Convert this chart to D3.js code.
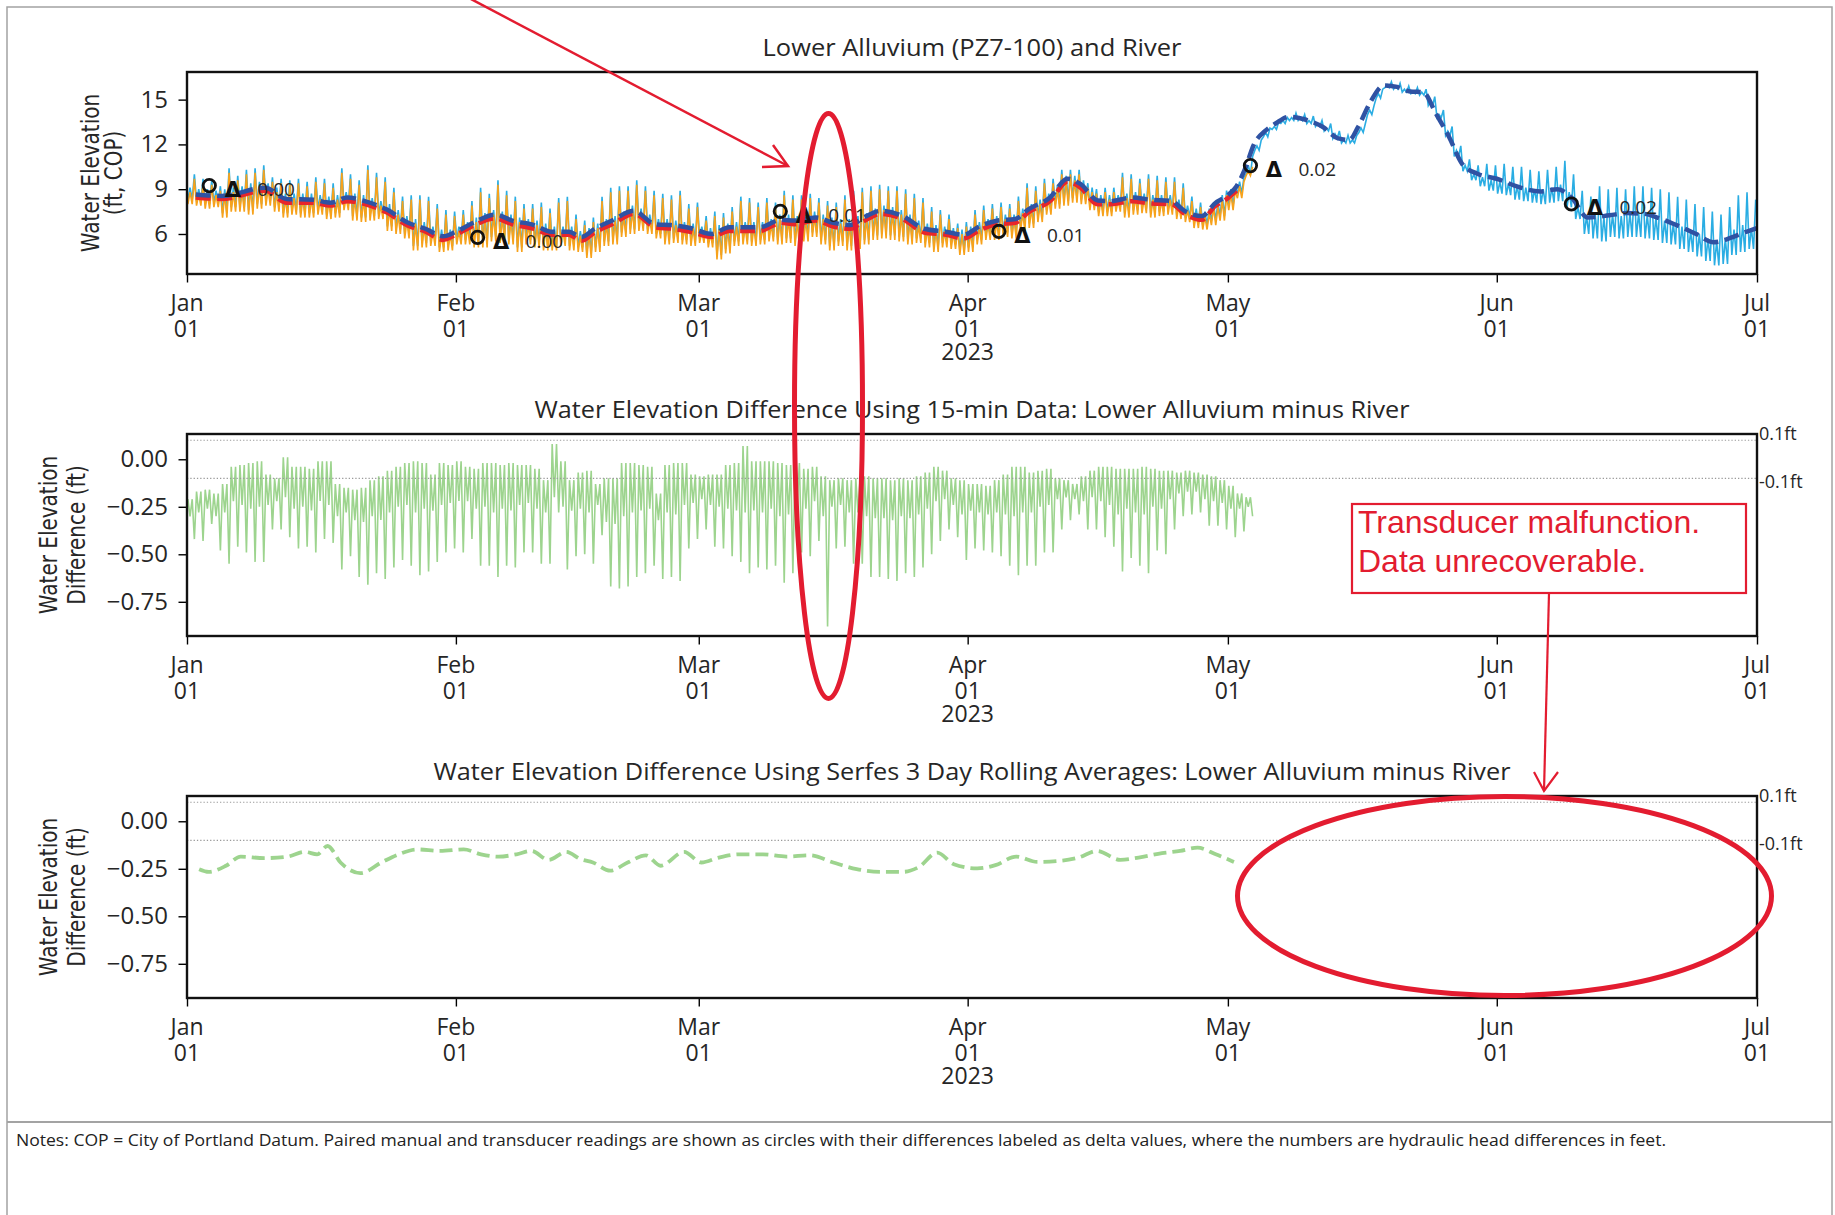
<!DOCTYPE html>
<html><head><meta charset="utf-8">
<script src="https://cdn.jsdelivr.net/npm/d3@7"></script>
<style>body{margin:0;background:#fff}svg{display:block}</style>
</head><body>
<svg id="c" width="1835" height="1215"></svg>
<script>
// ---------------- DATA ----------------
const startDate = "2023-01-01", endDate = "2023-07-01";
const monthLabels = ["Jan","Feb","Mar","Apr","May","Jun","Jul"];
const dayLabel = "01";
const yearLabel = "2023";
const titles = [
  "Lower Alluvium (PZ7-100) and River",
  "Water Elevation Difference Using 15-min Data: Lower Alluvium minus River",
  "Water Elevation Difference Using Serfes 3 Day Rolling Averages: Lower Alluvium minus River"
];
const yLabels1 = ["Water Elevation", "(ft, COP)"];
const yLabels2 = ["Water Elevation", "Difference (ft)"];
const yTicks1 = [6, 9, 12, 15];
const yTicks2 = [-0.75, -0.5, -0.25, 0];
const refLines = [0.1, -0.1];
const refLabels = ["0.1ft", "-0.1ft"];

// River 15-min: daily higher-high, secondary high, low (day 0 = Jan 1)
const riverHigh = [
10.0,9.7,9.6,9.2,10.4,9.9,10.3,10.4,10.6,9.8,
9.7,9.6,9.7,9.5,9.8,9.7,9.4,10.4,10.0,9.6,
10.6,10.1,9.8,9.1,8.5,8.6,8.6,8.5,8.0,7.6,
7.5,7.6,8.2,9.1,8.7,9.6,8.9,8.5,8.0,8.0,
8.1,7.7,8.4,8.5,7.3,6.9,7.1,8.5,9.1,9.2,
9.2,9.6,9.2,8.9,8.7,8.6,8.9,8.0,8.1,7.2,
7.5,7.4,7.8,8.5,8.4,8.1,8.4,8.1,8.9,8.6,
8.6,8.7,8.4,8.2,8.1,8.6,8.9,9.1,9.2,9.3,
9.2,9.2,9.0,8.7,8.4,7.8,7.6,7.3,6.7,6.8,
7.6,7.9,8.0,8.1,8.0,8.5,9.4,9.2,9.7,9.7,
10.3,10.3,10.3,9.4,9.0,9.1,9.1,10.1,10.0,9.7,
10.0,9.9,9.8,9.8,9.4,8.5,8.1,7.7,8.1,8.9,
9.2,9.8,11.2,12.3,13.1,13.5,13.8,14.1,14.0,13.9,
13.6,13.4,12.9,12.6,12.6,13.4,14.6,15.7,16.2,16.1,
15.9,15.8,15.7,15.2,14.3,13.2,11.9,11.0,10.6,10.7,
10.6,10.7,10.5,10.5,10.3,10.2,10.3,10.5,10.9,10.0,
8.9,8.5,9.2,9.0,9.1,9.0,9.2,9.2,9.1,9.0,
8.8,8.5,8.3,8.0,7.8,7.5,7.3,7.8,8.6,8.8,8.3];
const riverMid = [
9.1,9.0,9.0,8.9,9.0,9.1,9.2,9.4,9.5,9.4,
9.1,8.7,8.7,8.7,8.7,8.6,8.5,8.6,8.8,8.7,
8.6,8.4,8.2,8.0,7.6,7.2,7.0,6.8,6.5,6.3,
6.3,6.5,6.8,7.1,7.4,7.6,7.5,7.3,7.1,7.0,
6.9,6.7,6.5,6.5,6.5,6.2,6.4,6.7,7.0,7.2,
7.5,7.9,7.7,7.3,7.0,7.0,6.9,6.8,6.7,6.5,
6.4,6.6,6.7,6.8,6.8,6.8,6.8,7.0,7.3,7.3,
7.2,7.3,7.5,7.3,7.1,7.0,7.0,7.2,7.4,7.7,
7.9,7.8,7.6,7.3,6.9,6.7,6.6,6.5,6.4,6.3,
6.5,6.8,7.0,7.2,7.3,7.3,7.7,8.0,8.3,8.7,
9.3,9.9,9.9,9.6,9.1,8.6,8.6,8.6,8.7,8.8,
8.7,8.6,8.6,8.6,8.3,7.9,7.7,7.5,8.1,8.6,
9.0,9.5,10.6,11.9,12.8,13.2,13.6,13.8,13.8,13.6,
13.4,13.1,12.7,12.3,12.3,13.1,14.3,15.4,16.0,15.9,
15.7,15.5,15.5,14.9,14.0,12.9,11.6,10.6,10.0,9.8,
9.6,9.5,9.4,9.2,9.1,9.0,9.0,9.1,9.3,8.8,
7.8,7.2,7.3,7.1,7.3,7.2,7.4,7.4,7.3,7.1,
6.9,6.7,6.5,6.2,6.0,5.7,5.5,5.7,6.3,6.6,6.4];
const riverLow = [
8.3,8.2,8.0,8.1,7.4,7.8,7.8,7.6,8.0,8.2,
7.8,7.4,7.6,7.4,7.4,7.6,7.3,7.4,7.9,7.2,
7.1,7.2,7.3,6.5,6.3,6.0,5.2,5.4,5.5,5.1,
5.2,5.6,5.6,5.4,5.4,5.8,5.7,5.6,5.1,5.6,
5.4,5.2,5.2,5.5,5.2,5.1,4.7,5.1,5.5,5.6,
6.1,6.3,6.5,6.3,6.0,5.6,5.7,5.6,5.5,5.7,
5.4,4.6,5.0,5.5,5.6,5.5,5.6,5.8,5.6,5.7,
5.5,5.8,6.1,5.6,5.2,5.5,5.2,5.3,5.6,5.9,
6.0,5.9,5.8,5.6,5.7,5.4,5.1,5.4,5.3,4.9,
5.1,5.6,5.9,5.9,6.1,6.0,6.5,6.7,7.1,7.6,
8.0,8.2,8.4,8.3,7.9,7.5,7.5,7.8,7.4,7.6,
7.7,7.4,7.5,7.6,7.3,7.1,6.7,6.6,6.9,7.2,
7.9,8.7,10.0,11.6,12.5,13.0,13.4,13.6,13.6,13.4,
13.2,12.9,12.4,12.1,12.1,12.8,14.0,15.1,15.8,15.7,
15.5,15.4,15.3,14.6,13.8,12.6,11.2,10.2,9.6,9.2,
8.9,8.7,8.6,8.3,8.2,8.1,8.0,8.1,8.2,7.8,
7.0,6.0,5.7,5.5,5.8,5.7,5.8,5.8,5.7,5.6,
5.4,5.3,5.0,4.8,4.5,4.2,3.9,4.0,4.6,4.8,5.0];
// Lower Alluvium 15-min: daily higher-high, secondary high, low (ends early May)
const alluvHigh = [
9.7,9.4,9.3,8.9,10.1,9.6,10.0,10.1,10.3,9.5,
9.4,9.3,9.4,9.2,9.5,9.4,9.1,10.1,9.7,9.3,
10.3,9.8,9.5,8.8,8.2,8.3,8.3,8.2,7.7,7.3,
7.2,7.3,7.9,8.8,8.4,9.3,8.6,8.2,7.7,7.7,
7.8,7.4,8.1,8.2,7.0,6.6,6.8,8.2,8.8,8.9,
8.9,9.3,8.9,8.6,8.4,8.3,8.6,7.7,7.8,6.9,
7.2,7.1,7.5,8.2,8.1,7.8,8.1,7.8,8.6,8.3,
8.3,8.4,8.1,7.9,7.8,8.3,8.6,8.8,8.9,9.0,
8.9,8.9,8.7,8.4,8.1,7.5,7.3,7.0,6.4,6.5,
7.3,7.6,7.7,7.8,7.7,8.2,9.1,8.9,9.4,9.4,
10.0,10.0,10.0,9.1,8.7,8.8,8.8,9.8,9.7,9.4,
9.7,9.6,9.5,9.5,9.1,8.2,7.8,7.4,7.8,8.6,
8.9,9.5,10.5];
const alluvMid = [
8.8,8.7,8.7,8.6,8.7,8.8,8.9,9.1,9.2,9.1,
8.8,8.4,8.4,8.4,8.4,8.3,8.2,8.3,8.5,8.4,
8.3,8.1,7.9,7.7,7.3,6.9,6.7,6.5,6.2,6.0,
6.0,6.2,6.5,6.8,7.1,7.3,7.2,7.0,6.8,6.7,
6.6,6.4,6.2,6.2,6.2,5.9,6.1,6.4,6.7,6.9,
7.2,7.6,7.4,7.0,6.7,6.7,6.6,6.5,6.4,6.2,
6.1,6.3,6.4,6.5,6.5,6.5,6.5,6.7,7.0,7.0,
6.9,7.0,7.2,7.0,6.8,6.7,6.7,6.9,7.1,7.4,
7.6,7.5,7.3,7.0,6.6,6.4,6.3,6.2,6.1,6.0,
6.2,6.5,6.7,6.9,7.0,7.0,7.4,7.7,8.0,8.4,
9.0,9.6,9.6,9.3,8.8,8.3,8.3,8.3,8.4,8.5,
8.4,8.3,8.3,8.3,8.0,7.6,7.4,7.2,7.8,8.3,
8.7,9.2,10.2];
const alluvLow = [
8.0,7.9,7.7,7.8,7.1,7.5,7.5,7.3,7.7,7.9,
7.5,7.1,7.3,7.1,7.1,7.3,7.0,7.1,7.6,6.9,
6.8,6.9,7.0,6.2,6.0,5.7,4.9,5.1,5.2,4.8,
4.9,5.3,5.3,5.1,5.1,5.5,5.4,5.3,4.8,5.3,
5.1,4.9,4.9,5.2,4.9,4.8,4.4,4.8,5.2,5.3,
5.8,6.0,6.2,6.0,5.7,5.3,5.4,5.3,5.2,5.4,
5.1,4.3,4.7,5.2,5.3,5.2,5.3,5.5,5.3,5.4,
5.2,5.5,5.8,5.3,4.9,5.2,4.9,5.0,5.3,5.6,
5.7,5.6,5.5,5.3,5.4,5.1,4.8,5.1,5.0,4.6,
4.8,5.3,5.6,5.6,5.8,5.7,6.2,6.4,6.8,7.3,
7.7,7.9,8.1,8.0,7.6,7.2,7.2,7.5,7.1,7.3,
7.4,7.1,7.2,7.3,7.0,6.8,6.4,6.3,6.6,6.9,
7.6,8.4,9.9];
// 3-day rolling averages (day offsets from Jan 1)
const riverAvgDays = [1,4,9,11.5,14.5,16.5,18.5,20.5,23,25.5,27.5,29.5,31,33,35.5,37.5,40,42,44,45.5,47,49,51.5,54,56,58,60.5,62.5,66,68.5,70,72.5,74.5,76.5,78,80,82.5,85,87.5,89.5,91.5,93.5,95.5,97,99.5,101.5,103,105,106.5,109,111,113.5,115,117,118.5,120,121,122,123,124.3,125.5,127,129,131,132.7,134,135,136.3,138,139.5,141,142.5,144,145.5,147,148.7,151,153.5,156,158,159.6,161.5,164,166,168,169.5,171.5,174,176,178,179.5,181];
const riverAvg = [8.65,8.55,9.1,8.35,8.3,8.1,8.45,8.2,7.65,6.75,6.35,5.85,6.15,6.75,7.3,6.9,6.6,6.15,6.15,5.8,6.35,6.9,7.55,6.65,6.6,6.4,6.0,6.45,6.45,6.95,6.9,7.1,6.75,6.6,7.1,7.55,7.2,6.35,6.15,5.95,6.55,6.9,7.0,7.65,8.45,9.7,9.35,8.25,8.2,8.45,8.3,8.2,7.55,7.2,8.05,8.6,9.2,10.4,12.0,12.9,13.4,13.85,13.65,13.15,12.4,12.3,13.15,14.7,15.95,15.85,15.55,15.5,14.05,12.5,10.7,10.05,9.7,9.15,8.85,9.0,8.45,7.1,7.25,7.4,7.35,7.1,6.65,6.0,5.45,5.75,6.1,6.4];
const alluvAvgDays = [1,4,9,11.5,14.5,16.5,18.5,20.5,23,25.5,27.5,29.5,31,33,35.5,37.5,40,42,44,45.5,47,49,51.5,54,56,58,60.5,62.5,66,68.5,70,72.5,74.5,76.5,78,80,82.5,85,87.5,89.5,91.5,93.5,95.5,97,99.5,101.5,103,105,106.5,109,111,113.5,115,117,118.5,120,121];
const alluvAvg = [8.45,8.35,8.9,8.1,8.1,7.9,8.2,8.0,7.45,6.55,6.15,5.6,5.95,6.55,7.05,6.65,6.35,5.95,5.95,5.55,6.1,6.65,7.35,6.45,6.35,6.15,5.8,6.2,6.2,6.75,6.65,6.9,6.5,6.35,6.85,7.35,7.0,6.1,5.95,5.7,6.3,6.65,6.75,7.45,8.2,9.5,9.1,8.0,8.0,8.2,8.05,8.0,7.35,6.95,7.85,8.4,8.9];
// Paired manual/transducer readings
const markerDays = [2.57, 33.5, 68.4, 93.6, 122.6, 159.6];
const markerValues = [9.24, 5.77, 7.52, 6.17, 10.58, 8.01];
const markerLabels = ["0.00", "0.00", "0.01", "0.01", "0.02", "0.02"];
// 15-min difference: daily high, secondary trough, deepest low
const diffHigh = [
-0.21,-0.17,-0.16,-0.18,-0.13,-0.04,-0.03,-0.02,-0.01,-0.08,
-0.10,0.01,-0.04,-0.04,-0.05,-0.01,-0.01,-0.13,-0.15,-0.16,
-0.15,-0.11,-0.09,-0.06,-0.04,-0.02,-0.01,-0.02,-0.08,-0.02,
-0.03,-0.01,-0.04,-0.05,-0.02,-0.02,-0.03,-0.02,-0.03,-0.03,
-0.05,-0.11,0.08,-0.01,-0.11,-0.07,-0.06,-0.13,-0.10,-0.10,
-0.02,-0.02,-0.03,-0.04,-0.18,-0.03,-0.02,-0.02,-0.08,-0.09,
-0.08,-0.08,-0.03,-0.02,0.07,-0.01,-0.01,-0.01,-0.02,-0.03,
-0.02,-0.05,-0.04,-0.09,-0.11,-0.10,-0.11,-0.10,-0.09,-0.10,
-0.10,-0.11,-0.10,-0.11,-0.09,-0.07,-0.04,-0.06,-0.10,-0.11,
-0.13,-0.13,-0.14,-0.11,-0.08,-0.04,-0.04,-0.07,-0.06,-0.05,
-0.10,-0.11,-0.13,-0.09,-0.06,-0.04,-0.04,-0.05,-0.05,-0.05,
-0.04,-0.05,-0.06,-0.06,-0.07,-0.06,-0.07,-0.08,-0.09,-0.11,
-0.14,-0.18,-0.20];
const diffMid = [
-0.30,-0.28,-0.26,-0.30,-0.28,-0.22,-0.24,-0.26,-0.25,-0.24,
-0.22,-0.20,-0.26,-0.25,-0.27,-0.22,-0.24,-0.30,-0.28,-0.32,
-0.33,-0.30,-0.32,-0.28,-0.25,-0.24,-0.28,-0.26,-0.27,-0.24,
-0.23,-0.22,-0.22,-0.26,-0.25,-0.28,-0.26,-0.27,-0.24,-0.23,
-0.26,-0.28,-0.20,-0.25,-0.27,-0.26,-0.28,-0.24,-0.33,-0.34,
-0.30,-0.28,-0.27,-0.26,-0.32,-0.28,-0.29,-0.24,-0.23,-0.21,
-0.24,-0.25,-0.26,-0.27,-0.28,-0.27,-0.28,-0.26,-0.30,-0.29,
-0.24,-0.26,-0.22,-0.30,-0.25,-0.24,-0.28,-0.28,-0.30,-0.31,
-0.31,-0.32,-0.30,-0.31,-0.29,-0.26,-0.22,-0.21,-0.24,-0.29,
-0.27,-0.28,-0.29,-0.28,-0.29,-0.30,-0.28,-0.28,-0.25,-0.24,
-0.21,-0.20,-0.21,-0.22,-0.20,-0.22,-0.24,-0.29,-0.26,-0.28,
-0.29,-0.25,-0.26,-0.21,-0.18,-0.17,-0.17,-0.21,-0.22,-0.23,
-0.26,-0.26,-0.25];
const diffLow = [
-0.42,-0.43,-0.34,-0.48,-0.55,-0.46,-0.49,-0.54,-0.54,-0.37,
-0.37,-0.41,-0.47,-0.46,-0.49,-0.42,-0.44,-0.58,-0.51,-0.62,
-0.66,-0.60,-0.63,-0.57,-0.53,-0.56,-0.61,-0.59,-0.54,-0.49,
-0.47,-0.49,-0.42,-0.56,-0.56,-0.62,-0.56,-0.57,-0.49,-0.49,
-0.55,-0.55,-0.28,-0.58,-0.51,-0.50,-0.55,-0.40,-0.67,-0.68,
-0.67,-0.62,-0.60,-0.56,-0.63,-0.62,-0.64,-0.47,-0.42,-0.37,
-0.46,-0.47,-0.51,-0.54,-0.60,-0.57,-0.58,-0.56,-0.65,-0.60,
-0.49,-0.51,-0.43,-0.88,-0.47,-0.46,-0.55,-0.55,-0.62,-0.62,
-0.63,-0.64,-0.60,-0.62,-0.57,-0.50,-0.43,-0.37,-0.41,-0.53,
-0.47,-0.48,-0.49,-0.51,-0.56,-0.61,-0.56,-0.56,-0.49,-0.49,
-0.37,-0.32,-0.29,-0.37,-0.37,-0.41,-0.46,-0.59,-0.52,-0.56,
-0.60,-0.48,-0.50,-0.37,-0.30,-0.29,-0.28,-0.35,-0.35,-0.37,
-0.41,-0.38,-0.30];
// 3-day rolling average difference
const diffAvgDays = [1.4,2.5,4.5,6.2,8.9,11.6,13.6,15.0,16.2,17.7,20.0,22.4,24.4,26.5,29.2,31.9,33.9,35.9,38.0,39.7,41.7,43.7,45.4,46.8,48.8,50.8,52.9,54.6,57.3,59.3,61.3,63.7,66.4,69.1,71.8,74.5,77.2,79.9,82.6,84.3,86.5,88.4,91.1,93.2,95.6,98.0,100.8,102.8,104.9,107.6,109.7,112.4,114.5,116.5,118.6,120.7];
const diffAvg = [-0.252,-0.266,-0.234,-0.186,-0.194,-0.186,-0.161,-0.174,-0.13,-0.217,-0.273,-0.217,-0.174,-0.148,-0.156,-0.148,-0.174,-0.186,-0.174,-0.156,-0.203,-0.161,-0.2,-0.217,-0.26,-0.217,-0.179,-0.234,-0.161,-0.217,-0.191,-0.174,-0.174,-0.186,-0.179,-0.217,-0.252,-0.266,-0.266,-0.243,-0.165,-0.226,-0.248,-0.231,-0.186,-0.214,-0.208,-0.191,-0.156,-0.203,-0.191,-0.168,-0.156,-0.139,-0.174,-0.214];
const noteText = "Notes: COP = City of Portland Datum. Paired manual and transducer readings are shown as circles with their differences labeled as delta values, where the numbers are hydraulic head differences in feet.";
const annotationLines = ["Transducer malfunction.", "Data unrecoverable."];

// ---------------- RENDER ----------------
const SANS = "'Open Sans','Noto Sans',sans-serif";
const DEJA = "'DejaVu Sans',sans-serif";
const ARIAL = "'Liberation Sans',Arial,sans-serif";
const TXT = "#262626";
const C = {orange:"#f7a21b", lblue:"#2aade3", dblue:"#2f52a3", red:"#e8262b", green:"#9dd48e", ann:"#e31c30"};

const svg = d3.select("#c");
const T0 = d3.isoParse(startDate + "T00:00:00"), T1 = d3.isoParse(endDate + "T00:00:00");
const dd = d => new Date(T0.getTime() + d * 864e5);
const X0 = 187, X1 = 1757;
const x = d3.scaleTime().domain([T0, T1]).range([X0, X1]);
const panels = [
  {top:72, bottom:274, y:d3.scaleLinear().domain([3.32,16.85]).range([274,72])},
  {top:434, bottom:636, y:d3.scaleLinear().domain([-0.93,0.133]).range([636,434])},
  {top:796, bottom:998, y:d3.scaleLinear().domain([-0.93,0.133]).range([998,796])}
];

// frame
svg.append("rect").attr("x",7).attr("y",7).attr("width",1825).attr("height",1230)
  .attr("fill","none").attr("stroke","#a3a3a3").attr("stroke-width",1.5);
svg.append("line").attr("x1",7).attr("x2",1832).attr("y1",1122).attr("y2",1122)
  .attr("stroke","#a3a3a3").attr("stroke-width",2);

function text(g, xx, yy, s, o = {}) {
  const t = g.append("text").attr("x", xx).attr("y", yy).text(s)
    .attr("font-family", o.font || SANS).attr("font-size", o.size || 23)
    .attr("fill", o.fill || TXT).attr("text-anchor", o.anchor || "start");
  if (o.len) t.attr("textLength", o.len).attr("lengthAdjust", "spacingAndGlyphs");
  if (o.weight) t.attr("font-weight", o.weight);
  return t;
}

const months = d3.timeMonth.range(T0, d3.timeDay.offset(T1, 1));
const titleLens = [419, 875, 1077];

panels.forEach((p, i) => {
  const g = svg.append("g");
  const clipId = "clip" + i;
  svg.append("clipPath").attr("id", clipId).append("rect")
    .attr("x", X0).attr("y", p.top).attr("width", X1 - X0).attr("height", p.bottom - p.top);
  p.plot = g.append("g").attr("clip-path", `url(#${clipId})`);
  p.g = g;
  text(g, (X0 + X1) / 2, p.top - 16, titles[i], {size: 24, anchor: "middle", len: titleLens[i]});
  const ax = g.append("g").attr("transform", `translate(0,${p.bottom})`);
  ax.call(d3.axisBottom(x).ticks(d3.timeDay.every(1)).tickSize(4.5).tickSizeOuter(0).tickFormat(""));
  ax.call(d3.axisBottom(x).tickValues(months).tickSize(8.5).tickSizeOuter(0).tickFormat(""));
  ax.selectAll(".domain").remove();
  ax.selectAll("line").attr("stroke", "#000").attr("stroke-width", 1.4);
  months.forEach((m, k) => {
    text(g, x(m), p.bottom + 37, monthLabels[k], {anchor: "middle"});
    text(g, x(m), p.bottom + 63, dayLabel, {anchor: "middle"});
  });
  text(g, x(months[3]), p.bottom + 86, yearLabel, {anchor: "middle"});
  const ay = g.append("g").attr("transform", `translate(${X0},0)`);
  const majors = i === 0 ? yTicks1 : yTicks2;
  const minors = i === 0 ? d3.range(5, 23).map(k => k * 0.75) : d3.range(-18, 3).map(k => +(k * 0.05).toFixed(2));
  ay.call(d3.axisLeft(p.y).tickValues(minors).tickSize(4.5).tickSizeOuter(0).tickFormat(""));
  ay.call(d3.axisLeft(p.y).tickValues(majors).tickSize(8.5).tickSizeOuter(0).tickFormat(""));
  ay.selectAll(".domain").remove();
  ay.selectAll("line").attr("stroke", "#000").attr("stroke-width", 1.4);
  const fmt = i === 0 ? d3.format("d") : d3.format(".2f");
  majors.forEach(v => text(g, 168, p.y(v) + 8, fmt(v), {anchor: "end", size: 24}));
  const yl = i === 0 ? yLabels1 : yLabels2;
  const xs = i === 0 ? [99, 122] : [57, 85];
  const cy = (p.top + p.bottom) / 2;
  yl.forEach((s, k) => {
    g.append("text").attr("transform", `translate(${xs[k]},${cy}) scale(1.2,1) rotate(-90)`)
      .attr("text-anchor", "middle").attr("font-family", DEJA).attr("font-size", 20)
      .attr("fill", TXT).text(s);
  });
  if (i > 0) {
    refLines.forEach((v, k) => {
      g.append("line").attr("x1", X0).attr("x2", X1).attr("y1", p.y(v)).attr("y2", p.y(v))
        .attr("stroke", "#9a9a9a").attr("stroke-width", 1.2).attr("stroke-dasharray", "1.3 2");
      text(g, X1 + 2, p.y(v) + (k === 0 ? 0 : 9.5), refLabels[k], {size: 18});
    });
  }
});

const line = d3.line().x(d => x(d.t)).y(d => d.yv);
// semi-diurnal pattern: low, secondary high, low, higher-high
function tide(high, mid, low, ys) {
  const pts = [];
  high.forEach((h, k) => {
    pts.push({t: dd(k + 0.1), yv: ys(low[k])});
    pts.push({t: dd(k + 0.35), yv: ys(mid[k])});
    pts.push({t: dd(k + 0.6), yv: ys(low[k])});
    pts.push({t: dd(k + 0.85), yv: ys(h)});
  });
  return pts;
}
// difference pattern: high, secondary trough, high, deepest low
function diffPattern(high, mid, low, ys) {
  const pts = [];
  high.forEach((h, k) => {
    pts.push({t: dd(k + 0.1), yv: ys(h)});
    pts.push({t: dd(k + 0.35), yv: ys(mid[k])});
    pts.push({t: dd(k + 0.6), yv: ys(h)});
    pts.push({t: dd(k + 0.85), yv: ys(low[k])});
  });
  return pts;
}
function series(days, vals, ys) { return days.map((d, k) => ({t: dd(d), yv: ys(vals[k])})); }
const smooth = d3.line().x(d => x(d.t)).y(d => d.yv).curve(d3.curveMonotoneX);

const P1 = panels[0];
P1.plot.append("path").attr("d", line(tide(riverHigh, riverMid, riverLow, P1.y)))
  .attr("fill", "none").attr("stroke", C.lblue).attr("stroke-width", 1.6);
P1.plot.append("path").attr("d", line(tide(alluvHigh, alluvMid, alluvLow, P1.y)))
  .attr("fill", "none").attr("stroke", C.orange).attr("stroke-width", 1.6);
P1.plot.append("path").attr("d", smooth(series(alluvAvgDays, alluvAvg, P1.y)))
  .attr("fill", "none").attr("stroke", C.red).attr("stroke-width", 4.5).attr("stroke-dasharray", "15 6.5");
P1.plot.append("path").attr("d", smooth(series(riverAvgDays, riverAvg, P1.y)))
  .attr("fill", "none").attr("stroke", C.dblue).attr("stroke-width", 4.5).attr("stroke-dasharray", "15 6.5");
markerDays.forEach((d, k) => {
  const cx = x(dd(d)), cyy = P1.y(markerValues[k]);
  P1.g.append("circle").attr("cx", cx).attr("cy", cyy).attr("r", 6.2)
    .attr("fill", "none").attr("stroke", "#111").attr("stroke-width", 2.8);
  text(P1.g, cx + 23.5, cyy + 11.5, "Δ", {font: DEJA, size: 21, anchor: "middle", fill: "#111", weight: "bold"});
  text(P1.g, cx + 48, cyy + 10.5, markerLabels[k], {size: 19, fill: TXT});
});

const P2 = panels[1];
P2.plot.append("path").attr("d", line(diffPattern(diffHigh, diffMid, diffLow, P2.y)))
  .attr("fill", "none").attr("stroke", C.green).attr("stroke-width", 1.6);
const P3 = panels[2];
P3.plot.append("path").attr("d", smooth(series(diffAvgDays, diffAvg, P3.y)))
  .attr("fill", "none").attr("stroke", C.green).attr("stroke-width", 3.8).attr("stroke-dasharray", "13 6");

panels.forEach(p => {
  svg.append("rect").attr("x", X0).attr("y", p.top).attr("width", X1 - X0).attr("height", p.bottom - p.top)
    .attr("fill", "none").attr("stroke", "#111").attr("stroke-width", 2.4);
});

text(svg, 16, 1146, noteText, {size: 16, len: 1650, fill: "#222"});

const ann = svg.append("g").attr("fill", "none").attr("stroke", C.ann);
ann.append("line").attr("x1", 469).attr("y1", -2).attr("x2", 788).attr("y2", 166).attr("stroke-width", 2.5);
ann.append("polyline").attr("points", "762,167 788,166 773,145").attr("stroke-width", 2.5);
ann.append("ellipse").attr("cx", 828.5).attr("cy", 406).attr("rx", 34).attr("ry", 292.5).attr("stroke-width", 5);
ann.append("ellipse").attr("cx", 1504.5).attr("cy", 896).attr("rx", 267).attr("ry", 99.5).attr("stroke-width", 5);
ann.append("rect").attr("x", 1352).attr("y", 504).attr("width", 394).attr("height", 89).attr("fill", "#fff").attr("stroke-width", 2.2);
ann.append("line").attr("x1", 1549).attr("y1", 593).attr("x2", 1544).attr("y2", 791).attr("stroke-width", 2.2);
ann.append("polyline").attr("points", "1534,772 1544,791 1558,772").attr("stroke-width", 2.2);
annotationLines.forEach((s, k) => {
  text(svg, 1358, 533 + k * 38.7, s, {font: ARIAL, size: 32, fill: C.ann});
});
</script>
</body></html>
